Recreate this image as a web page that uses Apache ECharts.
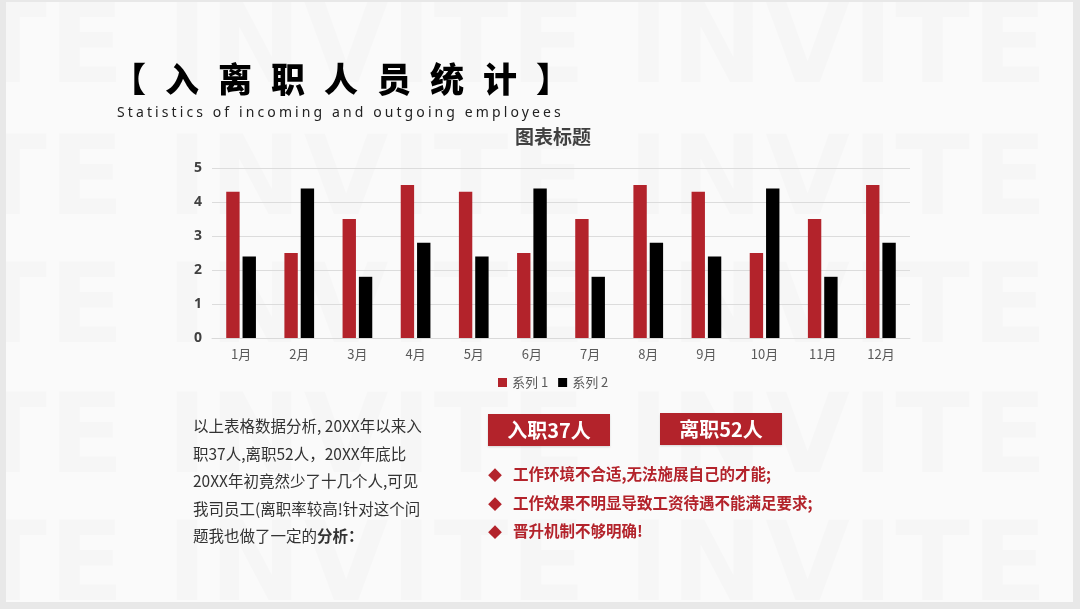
<!DOCTYPE html>
<html>
<head>
<meta charset="utf-8">
<script src="https://cdn.jsdelivr.net/npm/echarts@6/dist/echarts.min.js"></script>
<style>
  html, body { margin:0; padding:0; width:1080px; height:609px; overflow:hidden; background:#e8e8e8; }
  #slide { position:absolute; left:6px; top:2px; width:1067px; height:600px; background:#fafafa; overflow:hidden; }
  .wm { position:absolute; left:-301px; font-family:"DejaVu Sans"; font-weight:bold; font-size:110px; line-height:110px;
        color:rgba(0,0,0,0.014); white-space:nowrap; letter-spacing:2px; }
  #chart { position:absolute; left:0; top:0; width:1080px; height:609px; }
  .txt { position:absolute; white-space:nowrap; font-family:"Noto Sans CJK SC", "Noto Sans", sans-serif; }
  #title { left:112px; top:55px; font-size:34px; line-height:46px; font-weight:900; color:#000; letter-spacing:19px; }
  #sub { left:117px; top:102px; font-size:14px; line-height:20px; color:#222; letter-spacing:3.1px; font-family:"Noto Sans", sans-serif; }
  #para { left:193px; top:412px; font-size:15.5px; line-height:27.5px; color:#333; white-space:nowrap; }
  .box { position:absolute; height:32px; width:122px; background:#b3232b; color:#fff; font-weight:bold; font-size:20px;
         line-height:32px; text-align:center; font-family:"Noto Sans CJK SC", sans-serif; box-shadow:0 1px 2px rgba(0,0,0,0.15); }
  .bul { position:absolute; left:488px; font-size:15.5px; line-height:20px; color:#b3232b; font-weight:bold;
         font-family:"Noto Sans CJK SC", sans-serif; white-space:nowrap; }
  .bul span.d { display:inline-block; width:25px; font-size:14px; }
</style>
</head>
<body>
<div id="slide">
  <div class="wm" style="top:-13px">INVITE INVITE INVITE INVITE</div>
  <div class="wm" style="top:119px">INVITE INVITE INVITE INVITE</div>
  <div class="wm" style="top:247px">INVITE INVITE INVITE INVITE</div>
  <div class="wm" style="top:377px">INVITE INVITE INVITE INVITE</div>
  <div class="wm" style="top:505px">INVITE INVITE INVITE INVITE</div>
</div>
<div id="chart"></div>
<div class="txt" id="title">【入离职人员统计】</div>
<div class="txt" id="sub">Statistics of incoming and outgoing employees</div>
<div class="txt" id="para">以上表格数据分析, 20XX年以来入<br>职37人,离职52人，20XX年底比<br>20XX年初竟然少了十几个人,可见<br>我司员工(离职率较高!针对这个问<br>题我也做了一定的<b>分析：</b></div>
<div class="box" style="left:488px; top:414px;">入职37人</div>
<div class="box" style="left:660px; top:413px;">离职52人</div>
<div class="bul" style="top:463px;"><span class="d">◆</span>工作环境不合适,无法施展自己的才能;</div>
<div class="bul" style="top:492px;"><span class="d">◆</span>工作效果不明显导致工资待遇不能满足要求;</div>
<div class="bul" style="top:520px;"><span class="d">◆</span>晋升机制不够明确!</div>
<script>
const categories = ['1月','2月','3月','4月','5月','6月','7月','8月','9月','10月','11月','12月'];
const series1 = [4.3, 2.5, 3.5, 4.5, 4.3, 2.5, 3.5, 4.5, 4.3, 2.5, 3.5, 4.5];
const series2 = [2.4, 4.4, 1.8, 2.8, 2.4, 4.4, 1.8, 2.8, 2.4, 4.4, 1.8, 2.8];
const seriesNames = ['系列 1', '系列 2'];
const yTicks = [0, 1, 2, 3, 4, 5];

const chart = echarts.init(document.getElementById('chart'), null, { renderer: 'canvas' });
chart.setOption({
  backgroundColor: 'transparent',
  animation: false,
  title: {
    text: '图表标题', left: 515, top: 127, padding: 0,
    textStyle: { fontSize: 19, fontWeight: 'bold', color: '#404040', fontFamily: 'Noto Sans CJK SC' }
  },
  legend: {
    data: seriesNames, left: 498, top: 376, padding: 0,
    itemWidth: 9, itemHeight: 9, itemGap: 10, icon: 'rect',
    textStyle: { fontSize: 13, color: '#595959', fontFamily: 'Noto Sans CJK SC', padding: [0, 0, 0, 0] }
  },
  grid: { left: 212, right: 170, top: 168, bottom: 271, containLabel: false },
  xAxis: {
    type: 'category', data: categories,
    axisLine: { show: true, lineStyle: { color: '#d9d9d9', width: 1 } },
    axisTick: { show: false },
    axisLabel: { fontSize: 13, color: '#595959', margin: 10, fontFamily: 'Noto Sans CJK SC' }
  },
  yAxis: {
    type: 'value', min: yTicks[0], max: yTicks[yTicks.length - 1], interval: 1,
    axisLine: { show: false }, axisTick: { show: false },
    splitLine: { lineStyle: { color: '#dcdcdc', width: 1 } },
    axisLabel: { fontSize: 14, fontWeight: 'bold', color: '#404040', margin: 10, fontFamily: 'Noto Sans' }
  },
  series: [
    { name: seriesNames[0], type: 'bar', data: series1, barWidth: '23%', barGap: '22%', itemStyle: { color: '#b3232b' } },
    { name: seriesNames[1], type: 'bar', data: series2, barWidth: '23%', barGap: '22%', itemStyle: { color: '#000000' } }
  ]
});
</script>
</body>
</html>
